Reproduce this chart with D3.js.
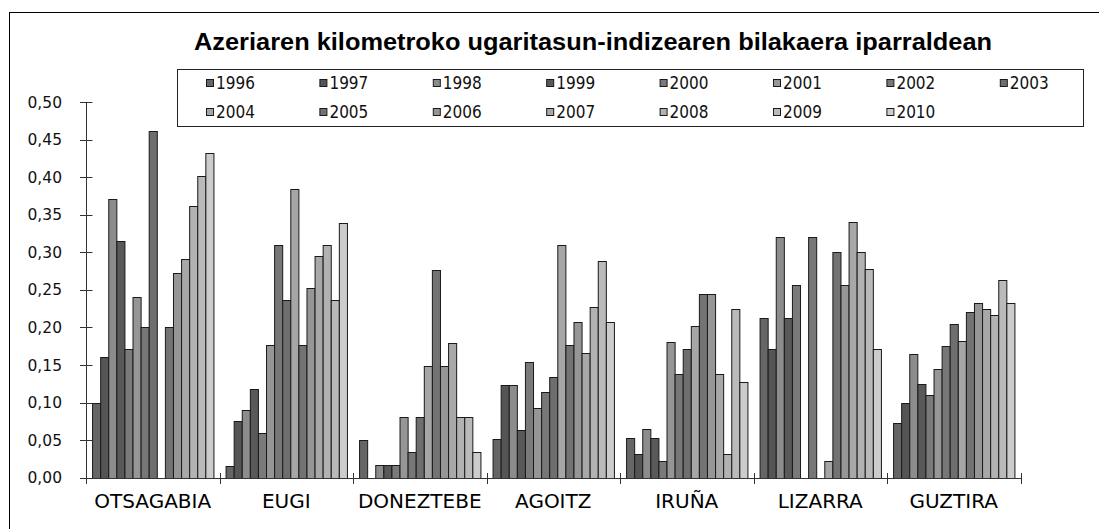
<!DOCTYPE html>
<html>
<head>
<meta charset="utf-8">
<script src="https://cdn.jsdelivr.net/npm/d3@7"></script>
<style>
  html, body { margin: 0; padding: 0; background: #fff; }
  svg { display: block; }
</style>
</head>
<body>
<svg id="chart" width="1099" height="529"></svg>
<script>
const title = "Azeriaren kilometroko ugaritasun-indizearen bilakaera iparraldean";
const categories = ["OTSAGABIA", "EUGI", "DONEZTEBE", "AGOITZ", "IRUÑA", "LIZARRA", "GUZTIRA"];
const years = ["1996","1997","1998","1999","2000","2001","2002","2003","2004","2005","2006","2007","2008","2009","2010"];
const yearColors = ["#666666","#555555","#8c8c8c","#595959","#7a7a7a","#969696","#777777","#6e6e6e","#a6a6a6","#737373","#969696","#a8a8a8","#b2b2b2","#bababa","#cccccc"];
const yTicks = [0, 0.05, 0.10, 0.15, 0.20, 0.25, 0.30, 0.35, 0.40, 0.45, 0.50];

// values per category, one per year 1996..2010 (null = no bar)
const otsagabia = [0.100, 0.160, 0.371, 0.315, 0.171, 0.241, 0.200, 0.462, null, 0.200, 0.272, 0.291, 0.361, 0.401, 0.432];
const eugi      = [0.015, 0.075, 0.090, 0.118, 0.060, 0.177, 0.310, 0.237, 0.384, 0.177, 0.252, 0.295, 0.310, 0.237, 0.339];
const doneztebe = [0.050, null, 0.017, 0.017, 0.017, 0.081, 0.034, 0.081, 0.148, 0.276, 0.148, 0.179, 0.081, 0.081, 0.034];
const agoitz    = [0.052, 0.124, 0.124, 0.063, 0.154, 0.093, 0.114, 0.134, 0.310, 0.176, 0.207, 0.166, 0.227, 0.288, 0.207];
const iruna     = [0.053, 0.031, 0.065, 0.053, 0.022, 0.180, 0.138, 0.171, 0.202, 0.244, 0.244, 0.138, 0.031, 0.224, 0.127];
const lizarra   = [0.213, 0.171, 0.321, 0.213, 0.256, null, 0.321, null, 0.022, 0.300, 0.256, 0.340, 0.300, 0.278, 0.171];
const guztira   = [0.073, 0.099, 0.165, 0.125, 0.110, 0.144, 0.175, 0.205, 0.182, 0.220, 0.232, 0.225, 0.217, 0.263, 0.232];

const seriesByCategory = [otsagabia, eugi, doneztebe, agoitz, iruna, lizarra, guztira];

const svg = d3.select("#chart");

// outer frame
svg.append("rect")
  .attr("x", 9.5).attr("y", 12.5)
  .attr("width", 1200).attr("height", 600)
  .attr("fill", "#fff").attr("stroke", "#000").attr("stroke-width", 1);

// title
svg.append("text")
  .attr("x", 593).attr("y", 50)
  .attr("text-anchor", "middle")
  .attr("font-family", "'Liberation Sans', Arial, sans-serif")
  .attr("font-weight", "bold")
  .attr("font-size", 23)
  .attr("textLength", 798)
  .attr("lengthAdjust", "spacingAndGlyphs")
  .attr("fill", "#000")
  .text(title);

const plotLeft = 86, plotRight = 1020.5, plotTop = 102, plotBottom = 477.7;

const x0 = d3.scaleBand().domain(categories).range([plotLeft, plotRight]).padding(0);
const x1 = d3.scaleBand().domain(years).range([0, x0.bandwidth()]).paddingInner(0).paddingOuter(0.75);
const y = d3.scaleLinear().domain([0, 0.5]).range([plotBottom, plotTop]);

const fmt = v => d3.format(".2f")(v).replace(".", ",");

// bars
const groups = svg.append("g").selectAll("g")
  .data(categories)
  .join("g")
  .attr("transform", d => `translate(${x0(d)},0)`);

groups.selectAll("rect")
  .data((d, i) => years.map((yr, j) => ({ yr, j, v: seriesByCategory[i][j] })).filter(e => e.v != null))
  .join("rect")
  .attr("x", d => x1(d.yr) + 0.5)
  .attr("y", d => Math.round(y(d.v)) + 0.5)
  .attr("width", x1.bandwidth())
  .attr("height", d => Math.round(plotBottom) - Math.round(y(d.v)))
  .attr("fill", d => yearColors[d.j])
  .attr("stroke", "#1a1a1a")
  .attr("stroke-width", 1);

// y axis
const yAxisG = svg.append("g").attr("transform", `translate(${plotLeft},0)`);
yAxisG.append("line")
  .attr("x1", 0.5).attr("x2", 0.5)
  .attr("y1", y(0.5)).attr("y2", plotBottom)
  .attr("stroke", "#333");
yAxisG.selectAll("line.tick")
  .data(yTicks)
  .join("line")
  .attr("class", "tick")
  .attr("x1", -6).attr("x2", 6.5)
  .attr("y1", d => Math.round(y(d)) + 0.5)
  .attr("y2", d => Math.round(y(d)) + 0.5)
  .attr("stroke", "#333");
yAxisG.selectAll("text")
  .data(yTicks)
  .join("text")
  .attr("x", -24)
  .attr("y", d => y(d))
  .attr("dy", "0.36em")
  .attr("text-anchor", "end")
  .attr("font-family", "'DejaVu Sans', sans-serif")
  .attr("font-size", 15.5)
  .attr("fill", "#111")
  .text(fmt);

// x axis
const xAxisG = svg.append("g");
xAxisG.append("line")
  .attr("x1", plotLeft).attr("x2", plotRight + 1)
  .attr("y1", Math.round(plotBottom) + 0.5).attr("y2", Math.round(plotBottom) + 0.5)
  .attr("stroke", "#333");
const boundaries = categories.map(c => x0(c)).concat([x0(categories[categories.length - 1]) + x0.bandwidth()]);
xAxisG.selectAll("line.tick")
  .data(boundaries)
  .join("line")
  .attr("class", "tick")
  .attr("x1", d => Math.round(d) + 0.5).attr("x2", d => Math.round(d) + 0.5)
  .attr("y1", Math.round(plotBottom) - 5).attr("y2", Math.round(plotBottom) + 6)
  .attr("stroke", "#333");
xAxisG.selectAll("text")
  .data(categories)
  .join("text")
  .attr("x", d => x0(d) + x0.bandwidth() / 2)
  .attr("y", 508)
  .attr("text-anchor", "middle")
  .attr("font-family", "'DejaVu Sans', sans-serif")
  .attr("font-size", 20)
  .attr("fill", "#000")
  .text(d => d);

// legend
const lg = svg.append("g");
lg.append("rect")
  .attr("x", 177.5).attr("y", 69.5)
  .attr("width", 906).attr("height", 57)
  .attr("fill", "#fff").attr("stroke", "#222");
const legendItems = lg.selectAll("g.item")
  .data(years)
  .join("g")
  .attr("class", "item")
  .attr("transform", (d, i) => `translate(${206 + (i % 8) * 113.4},${i < 8 ? 83 : 112})`);
legendItems.append("rect")
  .attr("x", 0.5).attr("y", -3.5)
  .attr("width", 7).attr("height", 7)
  .attr("fill", (d, i) => yearColors[i])
  .attr("stroke", "#1a1a1a");
legendItems.append("text")
  .attr("x", 10).attr("y", 0)
  .attr("dy", "0.36em")
  .attr("font-family", "'Liberation Sans Narrow', 'DejaVu Sans Condensed', sans-serif")
  .attr("font-size", 17)
  .attr("fill", "#111")
  .text(d => d);
</script>
</body>
</html>
